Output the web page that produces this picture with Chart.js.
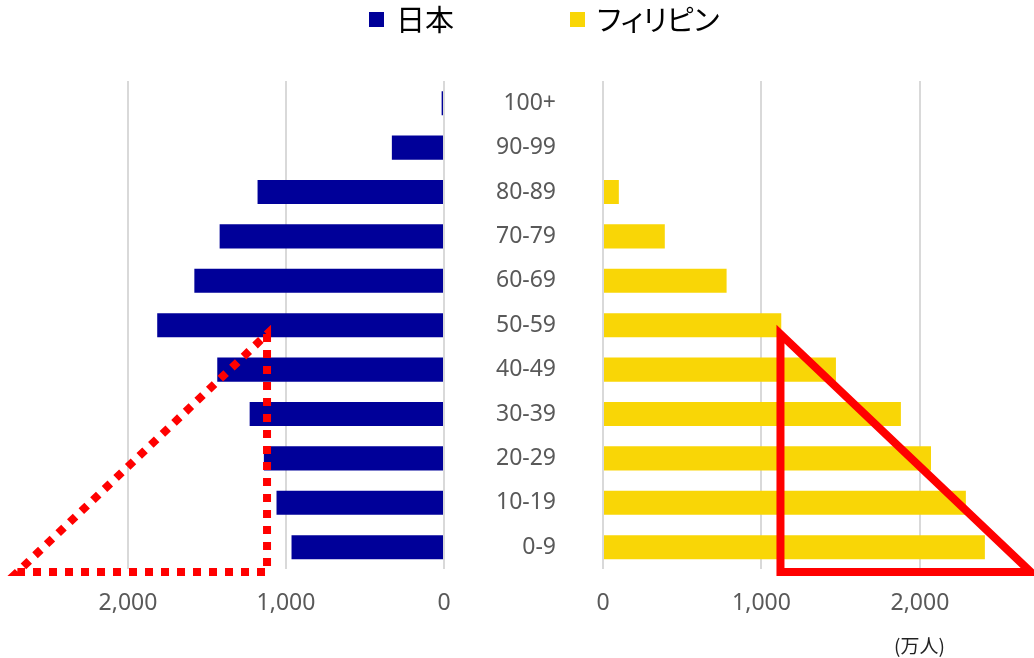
<!DOCTYPE html>
<html>
<head>
<meta charset="utf-8">
<script src="https://cdn.jsdelivr.net/npm/chart.js@4"></script>
<style>
  body { margin: 0; background: #fff; }
  #wrap { position: relative; width: 1034px; height: 658px; overflow: hidden; font-family: "Noto Sans CJK JP", "Noto Sans", sans-serif; }
  #leftBox { position: absolute; left: 0; top: 0; width: 452px; height: 658px; }
  #rightBox { position: absolute; left: 450px; top: 0; width: 584px; height: 658px; }
  .key { position: absolute; top: 12px; width: 15px; height: 15px; }
  .keyText { position: absolute; top: -2px; font-size: 29px; color: #000; line-height: 40px; font-feature-settings: "palt"; }
  #unit { position: absolute; left: 894px; top: 632px; font-size: 19px; color: #222; line-height: 26px; }
</style>
</head>
<body>
<div id="wrap">
  <div id="leftBox"><canvas id="japanChart"></canvas></div>
  <div id="rightBox"><canvas id="phChart"></canvas></div>
  <div id="legend"></div>
  <div id="unit">(万人)</div>
</div>
<script>
// age groups, top to bottom
const ageGroups = ['100+', '90-99', '80-89', '70-79', '60-69', '50-59', '40-49', '30-39', '20-29', '10-19', '0-9'];
// population, 万人
const japan = [15, 330, 1180, 1420, 1580, 1815, 1435, 1230, 1140, 1060, 965];
const philippines = [0, 0, 100, 390, 780, 1125, 1470, 1880, 2070, 2290, 2410];
const xTicks = [0, 1000, 2000];

const japanColor = '#000099';
const phColor = '#F9D606';
const tickColor = '#595959';
const gridColor = '#D9D9D9';

// red highlight triangle, in (value, category index) units
const triX = [1120, 1120, 2700];
const triY = [5.2, 10.56, 10.56];

const tickFont = { family: '"Noto Sans", sans-serif', size: 23 };

const highlight = {
  id: 'highlight',
  afterDatasetsDraw(chart, args, opts) {
    const ctx = chart.ctx;
    const xs = chart.scales.x, ys = chart.scales.y;
    ctx.save();
    ctx.strokeStyle = '#FF0000';
    ctx.lineWidth = 8;
    if (opts.dashed) {
      ctx.setLineDash([8, 8]);
      ctx.lineCap = 'butt';
    } else {
      ctx.lineJoin = 'miter';
    }
    ctx.beginPath();
    triX.forEach((v, i) => {
      const px = xs.getPixelForValue(v);
      const py = ys.getPixelForValue(triY[i]);
      if (i === 0) ctx.moveTo(px, py); else ctx.lineTo(px, py);
    });
    ctx.closePath();
    ctx.stroke();
    ctx.restore();
  }
};

function xScale(max, reverse) {
  return {
    min: 0,
    max: max,
    reverse: reverse,
    afterBuildTicks: (scale) => { scale.ticks = xTicks.map(v => ({ value: v })); },
    grid: { color: gridColor, lineWidth: 2, drawTicks: false },
    border: { display: false },
    ticks: {
      color: tickColor,
      font: tickFont,
      padding: 20,
      callback: (v) => Number(v).toLocaleString('en-US')
    }
  };
}

const common = {
  indexAxis: 'y',
  responsive: true,
  maintainAspectRatio: false,
  animation: false,
  plugins: { legend: { display: false }, tooltip: { enabled: false } }
};

new Chart(document.getElementById('japanChart').getContext('2d'), {
  type: 'bar',
  data: {
    labels: ageGroups,
    datasets: [{ label: '日本', data: japan, backgroundColor: japanColor, categoryPercentage: 1, barPercentage: 0.543 }]
  },
  options: Object.assign({}, common, {
    layout: { padding: { top: 81, bottom: 21, left: 0, right: 8 } },
    plugins: Object.assign({}, common.plugins, { highlight: { dashed: true } }),
    scales: {
      x: xScale(2810, true),
      y: { display: false }
    }
  }),
  plugins: [highlight]
});

const phChart = new Chart(document.getElementById('phChart').getContext('2d'), {
  type: 'bar',
  data: {
    labels: ageGroups,
    datasets: [{ label: 'フィリピン', data: philippines, backgroundColor: phColor, categoryPercentage: 1, barPercentage: 0.543 }]
  },
  options: Object.assign({}, common, {
    layout: { padding: { top: 81, bottom: 21, left: 0, right: 0 } },
    plugins: Object.assign({}, common.plugins, { highlight: { dashed: false } }),
    scales: {
      x: xScale(2720, false),
      y: {
        afterFit: (scale) => { scale.width = 153; },
        grid: { display: false, drawTicks: false },
        border: { display: false },
        ticks: { color: tickColor, font: tickFont, padding: 47 }
      }
    }
  }),
  plugins: [highlight]
});

// legend across both halves
const legendItems = [
  { text: '日本', color: japanColor, left: 369 },
  { text: 'フィリピン', color: phColor, left: 570 }
];
const legendEl = document.getElementById('legend');
legendItems.forEach(item => {
  const sw = document.createElement('div');
  sw.className = 'key';
  sw.style.left = item.left + 'px';
  sw.style.background = item.color;
  legendEl.appendChild(sw);
  const t = document.createElement('div');
  t.className = 'keyText';
  t.style.left = (item.left + 27) + 'px';
  t.textContent = item.text;
  legendEl.appendChild(t);
});
</script>
</body>
</html>
